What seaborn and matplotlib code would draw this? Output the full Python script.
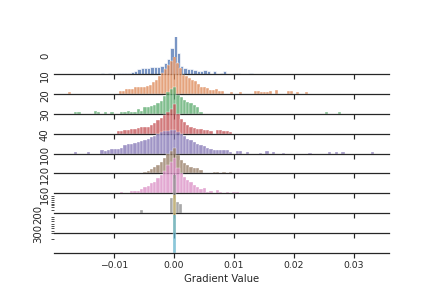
import numpy as np
import pandas as pd
import matplotlib
matplotlib.use("Agg")
import matplotlib.pyplot as plt
import seaborn as sns

sns.set_theme(style="ticks", context="paper", font_scale=1.05,
              rc={"axes.linewidth": 1.25, "xtick.major.width": 1.2, "xtick.major.size": 5})

# one histogram per epoch, counts
epochs = [0, 10, 20, 30, 40, 100, 120, 160, 200, 300]
bin_width = [0.00055, 0.0005, 0.00055, 0.00055, 0.00055, 0.00055, 0.00055, 0.0005, 0.00045, 0.00045]
first_edge = [-0.012175, -0.01765, -0.016675, -0.009525, -0.016675, -0.005125, -0.008975, -0.00565, -0.000125, -0.000125]

counts_0 = [5, 0, 5, 0, 0, 3, 5, 5, 5, 6, 11, 15, 18, 18, 18, 21, 23, 23, 25, 33, 45, 78, 150,
            63, 24, 18, 16, 15, 13, 11, 11, 12, 10, 0, 9, 0, 5, 9, 0, 0, 5, 3, 0, 0, 0, 5]
counts_10 = ([5] + [0] * 16
             + [8, 8, 15, 15, 14, 20, 20, 20, 22, 25, 28, 35, 42, 53, 63, 75, 87, 99, 150,
                93, 78, 58, 53, 48, 43, 38, 30, 22, 20, 17, 13, 13, 15, 8, 8]
             + [0, 0, 5, 0, 0, 5, 0, 0, 0, 0, 10, 10, 5, 6, 5, 10, 0, 13,
                0, 0, 0, 10, 10, 0, 5, 0, 0, 5])
counts_20 = ([5, 5, 0, 0, 0, 0, 10, 5, 0, 5, 0, 5, 0, 0, 6, 7, 10, 5, 5, 14, 9,
              20, 21, 24, 26, 32, 40, 54, 67, 75, 81, 57, 52, 42, 37, 32, 27, 22, 7]
             + [0] * 37 + [5, 0, 0, 0, 5])
counts_30 = [9, 8, 10, 12, 15, 15, 18, 20, 20, 20, 25, 32, 40, 48, 55, 65, 75, 90,
             60, 45, 35, 25, 20, 18, 15, 15, 10, 10, 8, 0, 10, 10, 8, 8, 5]
counts_40 = ([5, 0, 0, 0, 5, 0, 0, 0, 10, 8, 12, 14, 15,
              15, 18, 25, 28, 28, 32, 35, 38, 40, 45, 50, 52, 58, 65, 68, 68, 70, 72,
              65, 58, 52, 45, 40, 35, 30, 25, 22, 18, 15, 12, 12, 10, 10, 10, 6,
              0, 8, 8, 0, 5, 0, 0, 0, 3, 0, 8, 0, 4, 0, 0, 3]
             + [0] * 7 + [3] + [0] * 5 + [4, 0, 4, 0, 4] + [0] * 8 + [4])
counts_100 = [5, 8, 12, 18, 24, 33, 45, 57, 68, 75, 54, 40, 30, 25, 20, 15, 15, 10,
              0, 0, 0, 5, 5, 0, 5, 0, 5]
counts_120 = [5, 0, 0, 8, 8, 8, 12, 18, 22, 30, 35, 45, 55, 68, 85, 93, 105, 75, 60, 50,
              40, 35, 25, 20, 12, 15, 5, 8, 0, 10, 5, 0, 5, 0, 5, 5]
counts_160 = [9] + [0] * 9 + [45, 150, 33, 27]
counts_200 = [150]
counts_300 = [150]

all_counts = [counts_0, counts_10, counts_20, counts_30, counts_40,
              counts_100, counts_120, counts_160, counts_200, counts_300]

palette = sns.color_palette("deep", len(epochs))
ymax = 113

fig, axes = plt.subplots(len(epochs), 1, sharex=True, figsize=(6, 4), dpi=72)
fig.subplots_adjust(left=0.125, right=0.9, top=0.8726, bottom=0.1226, hspace=-0.473)

for i, ax in enumerate(axes):
    w = bin_width[i]
    n = len(all_counts[i])
    df = pd.DataFrame({
        "grad": first_edge[i] + w * (np.arange(n) + 0.5),
        "count": all_counts[i],
    })
    sns.histplot(data=df, x="grad", weights="count", binwidth=w,
                 binrange=(first_edge[i], first_edge[i] + w * n),
                 color=palette[i], ax=ax)
    ax.set_facecolor("none")
    ax.set_ylim(0, ymax)
    ax.set_yticks([])
    ax.set_ylabel(str(epochs[i]))
    sns.despine(ax=ax, left=True)

# the little tick marks on the left of the last rows
axes[8].set_yticks([f * ymax for f in [0.98, 0.93, 0.88, 0.83, 0.78, 0.73, 0.68, 0.6]], minor=True)
axes[9].set_yticks([f * ymax for f in [0.95, 0.89, 0.83, 0.77, 0.71, 0.65, 0.58, 0.52, 0.36]], minor=True)
for ax in axes[8:]:
    ax.tick_params(axis="y", which="minor", left=True, length=3.5)

axes[-1].set_xlim(-0.0200, 0.0358)
axes[-1].set_xticks([-0.01, 0.0, 0.01, 0.02, 0.03])
axes[-1].set_xlabel("Gradient Value")

fig.savefig("out.png", dpi=72)
